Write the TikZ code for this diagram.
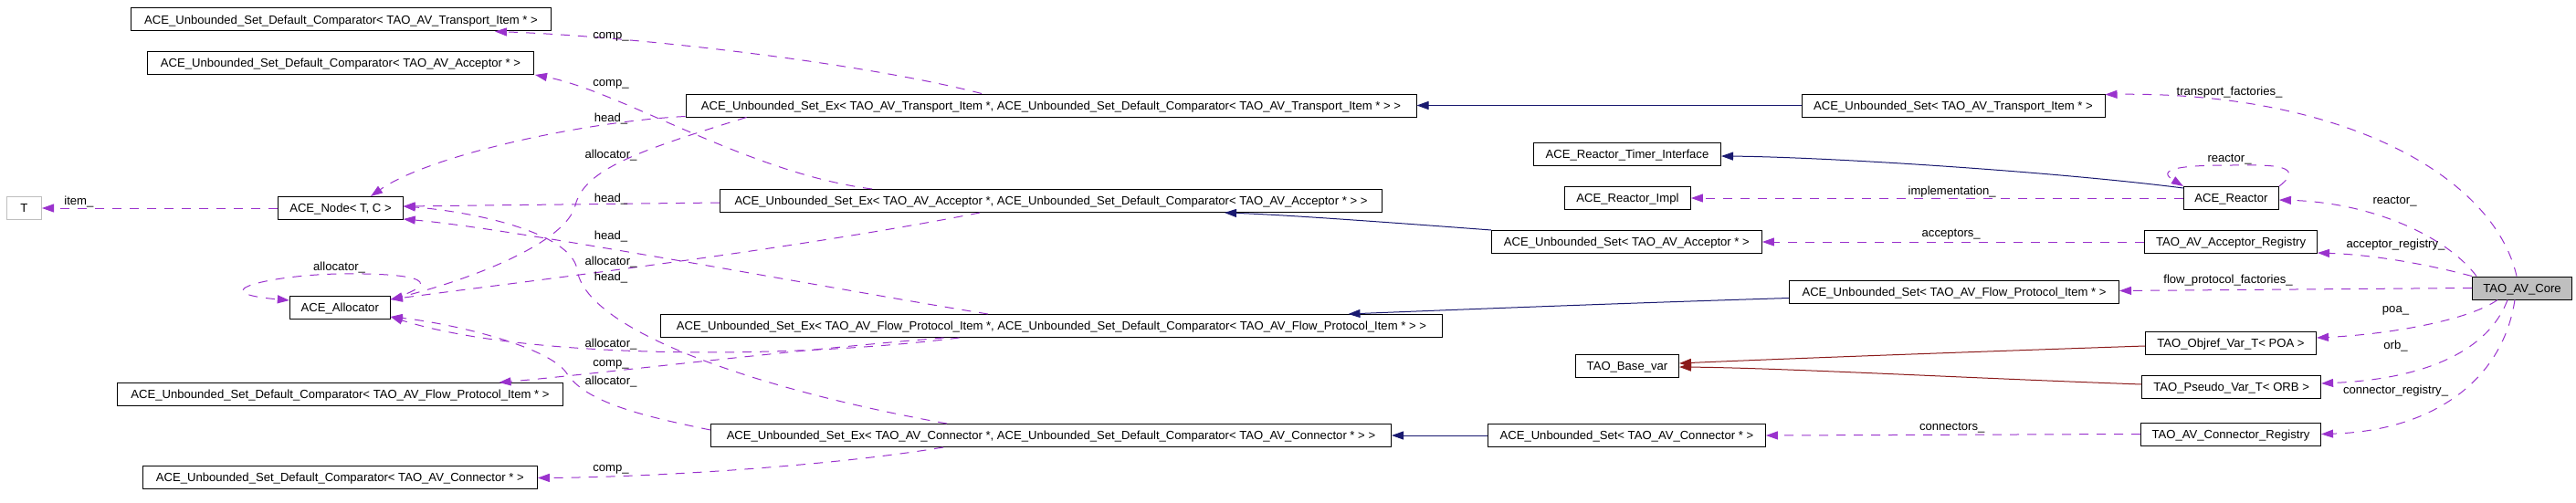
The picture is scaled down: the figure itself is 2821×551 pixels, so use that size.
\documentclass[tikz,border=0pt]{standalone}
\usepackage{fontspec}
\setmainfont{Liberation Sans}
\usetikzlibrary{arrows.meta,calc}
\definecolor{assoc}{HTML}{9A32CD}
\definecolor{inh}{HTML}{191970}
\definecolor{tmpl}{HTML}{8B1A1A}
\definecolor{grey75}{HTML}{BFBFBF}
\tikzset{
  box/.style={draw=black, line width=1pt, inner sep=0pt, minimum height=25pt,
    text height=9.4pt, text depth=0pt, font=\fontsize{13.1pt}{15pt}\selectfont},
  lbl/.style={inner sep=0pt, text height=9.4pt, text depth=0pt,
    font=\fontsize{13.1pt}{15pt}\selectfont},
  tipA/.style={-{Triangle[length=13pt,width=9pt]}},
  mem/.style={draw=assoc, line width=1pt, dash pattern=on 10pt off 9pt, tipA},
  inhe/.style={draw=inh, line width=1pt, tipA},
  tinst/.style={draw=tmpl, line width=1pt, tipA},
}
\begin{document}
\begin{tikzpicture}[x=1pt,y=-1pt]
\useasboundingbox (0,0) rectangle (2821,551);
% nodes
\node[box, draw=grey75, minimum width=38pt] (T) at (26.5,228) {T};
\node[box, minimum width=136.5pt] (nd) at (373,228) {ACE\_Node< T, C >};
\node[box, minimum width=460pt] (cmpTr) at (373.5,21.5) {ACE\_Unbounded\_Set\_Default\_Comparator< TAO\_AV\_Transport\_Item * >};
\node[box, minimum width=423pt] (cmpAc) at (373,69) {ACE\_Unbounded\_Set\_Default\_Comparator< TAO\_AV\_Acceptor * >};
\node[box, minimum width=110pt] (alloc) at (372.3,337) {ACE\_Allocator};
\node[box, minimum width=488pt] (cmpFl) at (372.5,432) {ACE\_Unbounded\_Set\_Default\_Comparator< TAO\_AV\_Flow\_Protocol\_Item * >};
\node[box, minimum width=432pt] (cmpCo) at (372.3,522.5) {ACE\_Unbounded\_Set\_Default\_Comparator< TAO\_AV\_Connector * >};
\node[box, minimum width=800pt] (exTr) at (1151,115.5) {ACE\_Unbounded\_Set\_Ex< TAO\_AV\_Transport\_Item *, ACE\_Unbounded\_Set\_Default\_Comparator< TAO\_AV\_Transport\_Item * > >};
\node[box, minimum width=725pt] (exAc) at (1151,220) {ACE\_Unbounded\_Set\_Ex< TAO\_AV\_Acceptor *, ACE\_Unbounded\_Set\_Default\_Comparator< TAO\_AV\_Acceptor * > >};
\node[box, minimum width=856pt] (exFl) at (1151.5,357) {ACE\_Unbounded\_Set\_Ex< TAO\_AV\_Flow\_Protocol\_Item *, ACE\_Unbounded\_Set\_Default\_Comparator< TAO\_AV\_Flow\_Protocol\_Item * > >};
\node[box, minimum width=745pt] (exCo) at (1151,477) {ACE\_Unbounded\_Set\_Ex< TAO\_AV\_Connector *, ACE\_Unbounded\_Set\_Default\_Comparator< TAO\_AV\_Connector * > >};
\node[box, minimum width=332pt] (usTr) at (2139,115.5) {ACE\_Unbounded\_Set< TAO\_AV\_Transport\_Item * >};
\node[box, minimum width=205pt] (rti) at (1782,169) {ACE\_Reactor\_Timer\_Interface};
\node[box, minimum width=138pt] (rimpl) at (1782.4,217) {ACE\_Reactor\_Impl};
\node[box, minimum width=296pt] (usAc) at (1781.4,265) {ACE\_Unbounded\_Set< TAO\_AV\_Acceptor * >};
\node[box, minimum width=361pt] (usFl) at (2140,319.5) {ACE\_Unbounded\_Set< TAO\_AV\_Flow\_Protocol\_Item * >};
\node[box, minimum width=113pt] (bvar) at (1782,401) {TAO\_Base\_var};
\node[box, minimum width=304pt] (usCo) at (1781.4,477) {ACE\_Unbounded\_Set< TAO\_AV\_Connector * >};
\node[box, minimum width=104pt] (reactor) at (2443.4,217) {ACE\_Reactor};
\node[box, minimum width=189pt] (acreg) at (2443,265) {TAO\_AV\_Acceptor\_Registry};
\node[box, fill=grey75, minimum width=109pt] (core) at (2762,315.5) {TAO\_AV\_Core};
\node[box, minimum width=187pt] (objref) at (2443,376) {TAO\_Objref\_Var\_T< POA >};
\node[box, minimum width=196pt] (pseudo) at (2443.6,424) {TAO\_Pseudo\_Var\_T< ORB >};
\node[box, minimum width=197pt] (coreg) at (2443,475.5) {TAO\_AV\_Connector\_Registry};
% right side members
\draw[mem] ($(core.north)+(-6,0)$) .. controls (2730,190) and (2560,100) .. ($(usTr.north east)+(0,1)$);
\draw[mem] ($(core.north west)+(5,0)$) .. controls (2680,260) and (2600,222) .. ($(reactor.east)+(0,2)$);
\draw[mem] (core.north west) .. controls (2660,290) and (2600,279) .. ($(acreg.south east)+(0,-1)$);
\draw[mem] (core.west) -- ($(usFl.east)+(0,-1)$);
\draw[mem] ($(core.south)+(-27,0)$) .. controls (2705,350) and (2620,366) .. ($(objref.east)+(0,-6)$);
\draw[mem] ($(core.south)+(-16,0)$) .. controls (2722,392) and (2640,416) .. ($(pseudo.east)+(0,-4)$);
\draw[mem] ($(core.south)+(-8,0)$) .. controls (2740,420) and (2660,472) .. (coreg.east);
\draw[mem] (reactor.north east) .. controls (2530,178) and (2475,181) .. (2444,181) .. controls (2410,181) and (2355,182) .. (reactor.north west);
\draw[mem] (reactor.west) -- (rimpl.east);
\draw[mem] (acreg.west) -- (usAc.east);
\draw[mem] (coreg.west) -- (usCo.east);
% inheritance
\draw[inhe] (usTr.west) -- (exTr.east);
\draw[inhe] ($(reactor.north west)+(0,2)$) .. controls (2250,188) and (2000,172) .. ($(rti.east)+(0,2)$);
\draw[inhe] (usAc.north west) .. controls (1500,242) and (1400,235) .. ($(exAc.south)+(190,0)$);
\draw[inhe] ($(usFl.west)+(0,7)$) .. controls (1750,333) and (1550,341) .. ($(exFl.north)+(325,0)$);
\draw[inhe] (usCo.west) -- (exCo.east);
% template instances
\draw[tinst] ($(objref.west)+(0,3)$) .. controls (2200,384) and (1950,393) .. ($(bvar.east)+(0,-3)$);
\draw[tinst] ($(pseudo.west)+(0,-3)$) .. controls (2150,414) and (1950,403) .. ($(bvar.east)+(0,1)$);
% left side members
\draw[mem] ($(exTr.north)+(-76,0)$) .. controls (950,70) and (700,40) .. ($(cmpTr.south)+(168.5,0)$);
\draw[mem] ($(exTr.west)+(0,12)$) .. controls (640,133) and (470,170) .. ($(nd.north)+(33,0)$);
\draw[mem] ($(exTr.south west)+(67,0)$) .. controls (700,165) and (640,185) .. (630,225) .. controls (620,265) and (520,305) .. ($(alloc.east)+(0,-9)$);
\draw[mem] ($(exAc.north)+(-196,0)$) .. controls (820,190) and (680,100) .. ($(cmpAc.south east)+(1,0)$);
\draw[mem] ($(exAc.west)+(0,2)$) -- ($(nd.east)+(0,-2)$);
\draw[mem] ($(exAc.south)+(-78,0)$) .. controls (860,275) and (560,310) .. ($(alloc.east)+(0,-9)$);
\draw[mem] ($(exFl.south)+(-118,0)$) .. controls (850,385) and (650,410) .. ($(cmpFl.north)+(174,0)$);
\draw[mem] ($(exFl.north)+(-69.5,0)$) .. controls (920,318) and (560,250) .. ($(nd.east)+(0,12)$);
\draw[mem] ($(exFl.south)+(-101,0)$) .. controls (850,395) and (570,392) .. ($(alloc.east)+(0,10)$);
\draw[mem] ($(exCo.north)+(-114,0)$) .. controls (820,425) and (640,360) .. (632,295) .. controls (625,255) and (520,232) .. ($(nd.east)+(0,-2)$);
\draw[mem] ($(exCo.west)+(0,-6)$) .. controls (700,455) and (640,440) .. (620,408) .. controls (600,380) and (500,355) .. ($(alloc.east)+(0,10)$);
\draw[mem] ($(exCo.south)+(-118,0)$) .. controls (900,512) and (700,523) .. ($(cmpCo.east)+(0,1)$);
\draw[mem] (nd.west) -- (T.east);
\draw[mem] ($(alloc.east)+(0,-9)$) .. controls (500,305) and (440,299) .. (372,300) .. controls (300,301) and (215,320) .. ($(alloc.west)+(0,-8)$);
% labels
\node[lbl] (l01) at (2441.5,99.3) {transport\_factories\_};
\node[lbl] (l02) at (2441.5,173) {reactor\_};
\node[lbl] (l03) at (2622.5,218.6) {reactor\_};
\node[lbl] (l04) at (2137.7,209) {implementation\_};
\node[lbl] (l05) at (2136.7,255) {acceptors\_};
\node[lbl] (l06) at (2623.5,267) {acceptor\_registry\_};
\node[lbl] (l07) at (2440,306) {flow\_protocol\_factories\_};
\node[lbl] (l08) at (2623.5,338) {poa\_};
\node[lbl] (l09) at (2623.5,378) {orb\_};
\node[lbl] (l10) at (2623.5,426.3) {connector\_registry\_};
\node[lbl] (l11) at (2137.7,466.3) {connectors\_};
\node[lbl] (l12) at (86.4,219.3) {item\_};
\node[lbl] (l13) at (371.6,291.3) {allocator\_};
\node[lbl] (l14) at (669,38) {comp\_};
\node[lbl] (l15) at (669,89.3) {comp\_};
\node[lbl] (l16) at (669,128.6) {head\_};
\node[lbl] (l17) at (669,168.6) {allocator\_};
\node[lbl] (l18) at (669,217) {head\_};
\node[lbl] (l19) at (669,258) {head\_};
\node[lbl] (l20) at (669,285.3) {allocator\_};
\node[lbl] (l21) at (669,303) {head\_};
\node[lbl] (l22) at (669,375.3) {allocator\_};
\node[lbl] (l23) at (669,397) {comp\_};
\node[lbl] (l24) at (669,417) {allocator\_};
\node[lbl] (l25) at (669,511.3) {comp\_};
\end{tikzpicture}
\end{document}
